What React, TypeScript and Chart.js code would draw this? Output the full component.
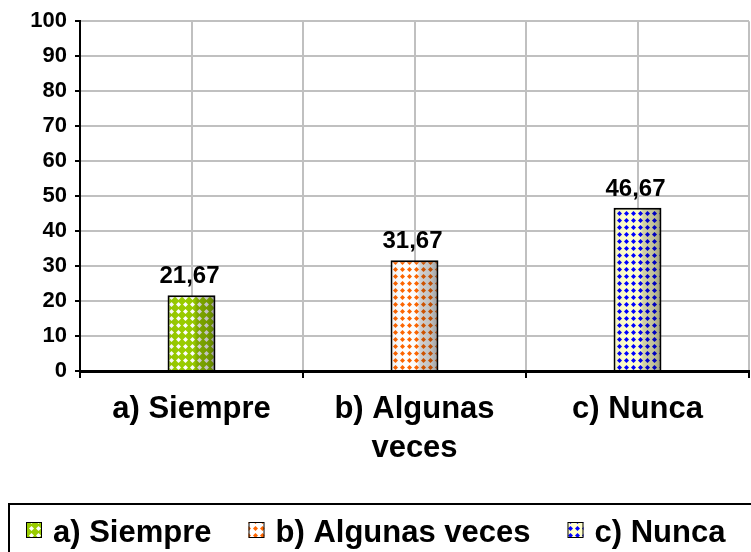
import React, { useEffect, useRef } from 'react';
import { Chart, registerables } from 'chart.js';

Chart.register(...registerables);

// ---- data ----
const categories: string[] = ['a) Siempre', 'b) Algunas veces', 'c) Nunca'];
const axisLabels: (string | string[])[] = ['a) Siempre', ['b) Algunas', 'veces'], 'c) Nunca'];
const values: number[] = [21.67, 31.67, 46.67];
const yMin = 0;
const yMax = 100;
const yStep = 10;

// ---- styles ----
const patternBg = ['#99cc00', '#ffffff', '#ffffcc'];
const patternFg = ['#ffffff', '#ff6600', '#0000ff'];
const FONT = '"Liberation Sans", Arial, Helvetica, sans-serif';

function makePattern(bg: string, fg: string, size: number): CanvasPattern | string {
  const c = document.createElement('canvas');
  c.width = size;
  c.height = size;
  const x = c.getContext('2d');
  if (!x) return bg;
  x.fillStyle = bg;
  x.fillRect(0, 0, size, size);
  x.fillStyle = fg;
  const h = size / 2;
  const r = size * 0.36;
  x.beginPath();
  x.moveTo(h, h - r);
  x.lineTo(h + r, h);
  x.lineTo(h, h + r);
  x.lineTo(h - r, h);
  x.closePath();
  x.fill();
  const p = x.createPattern(c, 'repeat');
  return p || bg;
}

export default function App() {
  const ref = useRef<HTMLCanvasElement | null>(null);

  useEffect(() => {
    const canvas = ref.current;
    if (!canvas) return;
    const patterns = patternBg.map((bg, i) => makePattern(bg, patternFg[i], 7));

    const centerGrid = {
      id: 'centerGrid',
      beforeDatasetsDraw(chart: any) {
        const { ctx, chartArea, scales } = chart;
        const xs = scales.x;
        ctx.save();
        ctx.strokeStyle = '#c0c0c0';
        ctx.lineWidth = 2;
        categories.forEach((_, i) => {
          const px = Math.round(xs.getPixelForValue(i));
          ctx.beginPath();
          ctx.moveTo(px, chartArea.top);
          ctx.lineTo(px, chartArea.bottom - 2);
          ctx.stroke();
        });
        ctx.restore();
      },
    };

    const barDecor = {
      id: 'barDecor',
      afterDatasetsDraw(chart: any) {
        const { ctx } = chart;
        const meta = chart.getDatasetMeta(0);
        ctx.save();
        meta.data.forEach((bar: any, i: number) => {
          const { x, y, base, width } = bar.getProps(['x', 'y', 'base', 'width'], true);
          const left = x - width / 2;
          const g = ctx.createLinearGradient(left, 0, left + width, 0);
          g.addColorStop(0, 'rgba(0,0,0,0.05)');
          g.addColorStop(0.3, 'rgba(0,0,0,0)');
          g.addColorStop(0.55, 'rgba(0,0,0,0.02)');
          g.addColorStop(0.62, 'rgba(0,0,0,0.18)');
          g.addColorStop(0.85, 'rgba(0,0,0,0.25)');
          g.addColorStop(1, 'rgba(0,0,0,0.4)');
          ctx.fillStyle = g;
          ctx.fillRect(left + 1, y + 1, width - 2, base - y - 1);
          // value label
          ctx.fillStyle = '#000';
          ctx.font = 'bold 24px ' + FONT;
          ctx.textAlign = 'center';
          ctx.textBaseline = 'alphabetic';
          ctx.fillText(values[i].toFixed(2).replace('.', ','), x - 2, y - 12);
        });
        ctx.restore();
      },
    };

    const customLegend = {
      id: 'customLegend',
      afterDraw(chart: any) {
        const { ctx, width } = chart;
        ctx.save();
        ctx.lineWidth = 2;
        ctx.strokeStyle = '#000';
        ctx.strokeRect(9, 504, width + 20, 100);
        ctx.font = 'bold 31px ' + FONT;
        const sw = 16;
        const gap = 11;
        const itemGap = 37;
        const widths = categories.map((c) => ctx.measureText(c).width);
        const total = widths.reduce((a, w) => a + sw + gap + w, 0) + itemGap * (categories.length - 1);
        let x = Math.round((width - total) / 2);
        categories.forEach((c, i) => {
          ctx.fillStyle = patterns[i];
          ctx.fillRect(x, 522, sw, sw);
          ctx.lineWidth = 1;
          ctx.strokeStyle = '#000';
          ctx.strokeRect(x + 0.5, 522.5, sw - 1, sw - 1);
          ctx.fillStyle = '#000';
          ctx.textAlign = 'left';
          ctx.textBaseline = 'alphabetic';
          ctx.fillText(c, x + sw + gap, 542);
          x += sw + gap + widths[i] + itemGap;
        });
        ctx.restore();
      },
    };

    const chart = new Chart(canvas, {
      type: 'bar',
      data: {
        labels: axisLabels as any,
        datasets: [
          {
            data: values,
            backgroundColor: patterns as any,
            borderColor: '#000',
            borderWidth: 2,
            categoryPercentage: 1,
            barPercentage: 0.215,
          },
        ],
      },
      options: {
        animation: false,
        responsive: false,
        devicePixelRatio: 1,
        layout: { padding: { top: 21, right: 2, bottom: 0, left: 0 } },
        plugins: {
          legend: { display: false },
          tooltip: { enabled: false },
        },
        scales: {
          x: {
            offset: true,
            grid: {
              offset: true,
              color: '#c0c0c0',
              lineWidth: 2,
              tickColor: '#000',
              tickLength: 7,
              tickWidth: 2,
            },
            border: { color: '#000', width: 3 },
            ticks: {
              color: '#000',
              padding: 12,
              maxRotation: 0,
              autoSkip: false,
              font: { family: FONT, size: 31, weight: 'bold', lineHeight: 1.25 },
            },
            afterFit: (s: any) => {
              s.height = 181;
            },
          },
          y: {
            min: yMin,
            max: yMax,
            ticks: {
              stepSize: yStep,
              color: '#000',
              padding: 8,
              font: { family: FONT, size: 22, weight: 'bold' },
            },
            grid: {
              color: '#c0c0c0',
              lineWidth: 2,
              tickColor: '#000',
              tickLength: 5,
              tickWidth: 2,
            },
            border: { color: '#000', width: 2 },
            afterFit: (s: any) => {
              s.width = 80;
            },
          },
        },
      },
      plugins: [centerGrid, barDecor, customLegend],
    });

    return () => {
      chart.destroy();
    };
  }, []);

  return (
    <div style={{ position: 'fixed', left: 0, top: 0, width: 751, height: 552, background: '#fff' }}>
      <canvas ref={ref} width={751} height={552} style={{ display: 'block' }} />
    </div>
  );
}
